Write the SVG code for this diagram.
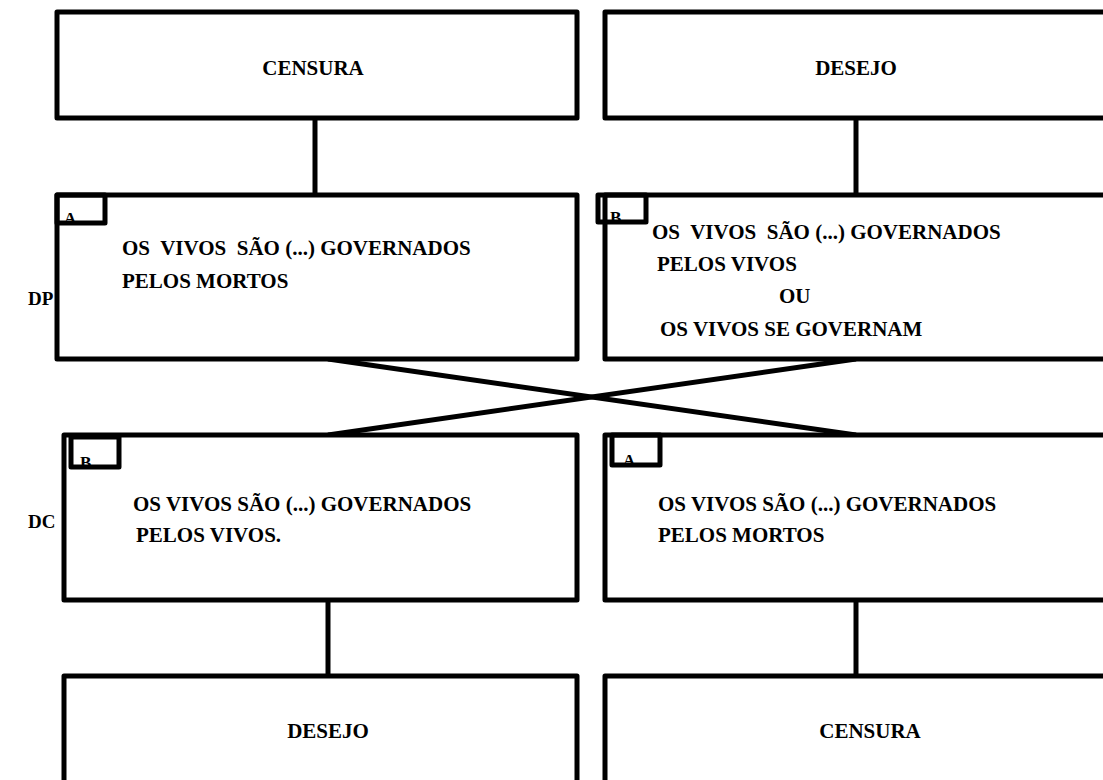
<svg xmlns="http://www.w3.org/2000/svg" width="1103" height="780" viewBox="0 0 1103 780">
  <style>
    .box { fill: #ffffff; stroke: #000000; stroke-width: 5; stroke-linejoin: round; }
    .tag { fill: none; stroke: #000000; stroke-width: 5; stroke-linejoin: round; }
    .link { stroke: #000000; stroke-width: 5; fill: none; }
    .t { font-family: 'Liberation Serif', 'DejaVu Serif', 'Times New Roman', serif; font-weight: 700; font-size: 21px; fill: #000000; }
    .c { text-anchor: middle; }
    .lbl { font-family: 'Liberation Serif', 'DejaVu Serif', 'Times New Roman', serif; font-weight: 700; font-size: 19px; fill: #000000; }
    .s { font-family: 'Liberation Serif', 'DejaVu Serif', 'Times New Roman', serif; font-weight: 700; font-size: 17px; fill: #000000; }
  </style>
  <rect width="1103" height="780" fill="#ffffff"/>

  <!-- connectors -->
  <g id="connectors">
    <line class="link" x1="315" y1="118" x2="315" y2="195"/>
    <line class="link" x1="856" y1="118" x2="856" y2="195"/>
    <line class="link" x1="328" y1="359" x2="856" y2="435"/>
    <line class="link" x1="856" y1="359" x2="328" y2="435"/>
    <line class="link" x1="328" y1="600" x2="328" y2="676"/>
    <line class="link" x1="856" y1="600" x2="856" y2="676"/>
  </g>

  <!-- top row -->
  <g id="censura-top">
    <rect class="box" x="57" y="12" width="520" height="106"/>
    <text class="t c" x="313" y="75">CENSURA</text>
  </g>
  <g id="desejo-top">
    <rect class="box" x="605" y="12" width="502" height="106"/>
    <text class="t c" x="856" y="75">DESEJO</text>
  </g>

  <!-- DP row -->
  <text id="label-dp" class="lbl" x="28" y="305">DP</text>
  <g id="dp-a">
    <rect class="box" x="57" y="195" width="520" height="164"/>
    <rect class="tag" x="57" y="195" width="48" height="28"/>
    <text class="s" x="64" y="224">A</text>
    <text class="t" x="122" y="255" xml:space="preserve">OS  VIVOS  SÃO (...) GOVERNADOS</text>
    <text class="t" x="122" y="288">PELOS MORTOS</text>
  </g>
  <g id="dp-b">
    <rect class="box" x="605" y="195" width="502" height="164"/>
    <rect class="tag" x="598" y="195" width="48" height="27" fill="#ffffff"/>
    <text class="s" x="610" y="223">B</text>
    <text class="t" x="652" y="239" xml:space="preserve">OS  VIVOS  SÃO (...) GOVERNADOS</text>
    <text class="t" x="657" y="271">PELOS VIVOS</text>
    <text class="t" x="779" y="303">OU</text>
    <text class="t" x="660" y="336">OS VIVOS SE GOVERNAM</text>
  </g>

  <!-- DC row -->
  <text id="label-dc" class="lbl" x="28" y="528">DC</text>
  <g id="dc-b">
    <rect class="box" x="64" y="435" width="513" height="165"/>
    <rect class="tag" x="71" y="437" width="48" height="30"/>
    <text class="s" x="80" y="468">B</text>
    <text class="t" x="133" y="511">OS VIVOS SÃO (...) GOVERNADOS</text>
    <text class="t" x="136" y="542">PELOS VIVOS.</text>
  </g>
  <g id="dc-a">
    <rect class="box" x="605" y="435" width="502" height="165"/>
    <rect class="tag" x="612" y="435" width="48" height="30"/>
    <text class="s" x="623" y="466">A</text>
    <text class="t" x="658" y="511">OS VIVOS SÃO (...) GOVERNADOS</text>
    <text class="t" x="658" y="542">PELOS MORTOS</text>
  </g>

  <!-- bottom row -->
  <g id="desejo-bottom">
    <rect class="box" x="64" y="676" width="513" height="108"/>
    <text class="t c" x="328" y="738">DESEJO</text>
  </g>
  <g id="censura-bottom">
    <rect class="box" x="605" y="676" width="502" height="108"/>
    <text class="t c" x="870" y="738">CENSURA</text>
  </g>
</svg>
